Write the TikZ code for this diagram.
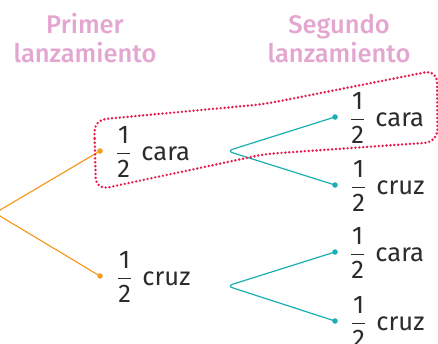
\documentclass[tikz,border=0pt]{standalone}
\usepackage{amsmath}
\usepackage{fontspec}
\setmainfont{Fira Sans}
\newfontfamily\titlefont{Fira Sans Medium}
\definecolor{pinkt}{HTML}{E3A6D0}
\definecolor{orng}{HTML}{F39C1E}
\definecolor{tealb}{HTML}{17AFAF}
\definecolor{redd}{HTML}{E8194B}
\definecolor{txt}{HTML}{2B2B2B}
\newcommand{\lab}[1]{$\dfrac{\text{1}}{\text{2}}$\hspace{0.4em}#1}
\begin{document}
\begin{tikzpicture}[x=1pt,y=-1pt,
  title/.style={text=pinkt,font=\titlefont\fontsize{25.5}{28}\selectfont,anchor=base,inner sep=0pt},
  labl/.style={text=txt,font=\fontsize{25.5}{28}\selectfont,anchor=base west,inner sep=0pt},
  obranch/.style={draw=orng,line width=1.2pt,rounded corners=6pt},
  tbranch/.style={draw=tealb,line width=1.2pt,rounded corners=6pt},
  odot/.style={circle,fill=orng,inner sep=0pt,minimum size=5.5pt},
  tdot/.style={circle,fill=tealb,inner sep=0pt,minimum size=5.5pt},
  loop/.style={draw=redd,line width=2.7pt,line cap=round,dash pattern=on 0pt off 3.9pt,rounded corners=12pt}]
\useasboundingbox (0,0) rectangle (438,343);
% titles
\node[title] (t1a) at (85,33) {Primer};
\node[title] (t1b) at (85,62) {lanzamiento};
\node[title] (t2a) at (339,33) {Segundo};
\node[title] (t2b) at (339,62) {lanzamiento};
% coordinates
\coordinate (root) at (-5,213);
\node[odot] (o1) at (100,151) {};
\node[odot] (o2) at (100,276) {};
\coordinate (v1) at (227,151);
\coordinate (v2) at (227,286);
\node[tdot] (s1) at (335,117) {};
\node[tdot] (s2) at (335,185) {};
\node[tdot] (s3) at (335,252) {};
\node[tdot] (s4) at (335,321) {};
% branches
\draw[obranch] (o1.center) -- (root) -- (o2.center);
\draw[tbranch] (s1.center) -- (v1) -- (s2.center);
\draw[tbranch] (s3.center) -- (v2) -- (s4.center);
% labels
\node[labl] (l1) at (116,160) {\lab{cara}};
\node[labl] (l2) at (117,285) {\lab{cruz}};
\node[labl] (l3) at (350,126) {\lab{cara}};
\node[labl] (l4) at (351,194) {\lab{cruz}};
\node[labl] (l5) at (350,261) {\lab{cara}};
\node[labl] (l6) at (351,330) {\lab{cruz}};
% dotted loop
\draw[loop] (95,150) -- (94,120) -- (265,104) -- (437,70) -- (437.5,142) -- (265,154) -- (96,190) -- cycle;
\end{tikzpicture}
\end{document}
